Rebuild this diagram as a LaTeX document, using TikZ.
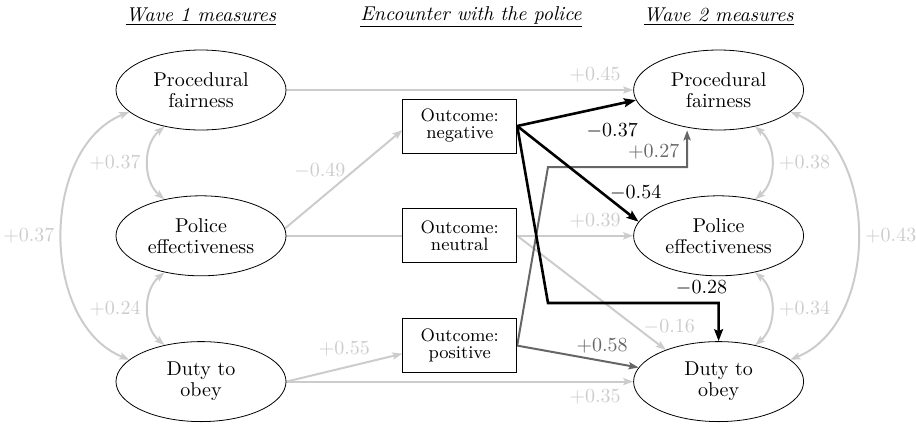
\documentclass[tikz,border=0pt]{standalone}
\usepackage{amsmath}
\usetikzlibrary{arrows.meta,calc,positioning,backgrounds,shapes.geometric}

\begin{document}
\begin{tikzpicture}[x=0.5pt,y=-0.5pt,>={Stealth[length=5pt,width=3.6pt,inset=1pt]},
		latent/.style={ellipse,draw,fill=white,minimum width=85pt,minimum height=40pt,inner sep=0pt,align=center,font={\fontsize{10}{10.5}\selectfont}},
		outcome/.style={rectangle,draw,fill=white,minimum width=57pt,minimum height=27pt,inner sep=0pt,align=center,font={\fontsize{9}{8.5}\selectfont}},
		lightpath/.style={->,color=black!20,line width=1pt},
		greypath/.style={->,color=black!60,line width=1pt},
		blackpath/.style={-{Stealth[length=6pt,width=4.4pt,inset=1pt]},color=black,line width=1.3pt},
		heading/.style={font=\itshape}]
		\useasboundingbox (0,0) rectangle (916,424);
		\node[latent] (pf1) at (201,90) {Procedural\\fairness};
		\node[latent] [below=32.5pt of pf1] (pe1) {Police\\effectiveness};
		\node[latent] [below=32.5pt of pe1] (do1) {Duty to\\obey};
		\node[outcome] [right=58pt of pe1] (neu) {Outcome:\\neutral};
		\node[outcome] [above=27.5pt of neu] (neg) {Outcome:\\negative};
		\node[outcome] [below=27.5pt of neu] (pos) {Outcome:\\positive};
		\node[latent] [right=58pt of neu] (pe2) {Police\\effectiveness};
		\node[latent] [above=32.5pt of pe2] (pf2) {Procedural\\fairness};
		\node[latent] [below=32.5pt of pe2] (do2) {Duty to\\obey};
		\node[heading] (t1) at (201,17) {\underline{Wave 1 measures}};
		\node[heading] (t2) at (471,17) {\underline{Encounter with the police}};
		\node[heading] (t3) at (pf2 |- t1) {\underline{Wave 2 measures}};
		\coordinate (kneg) at (548,303);
		\coordinate (kpos) at (548,167);
		\begin{scope}[on background layer]
			\draw[lightpath] (pf1.east) -- node[pos=0.89,above] {$+0.45$} (pf2.west);
			\draw[lightpath] (pe1.east) -- node[pos=0.89,above] {$+0.39$} (pe2.west);
			\draw[lightpath] (do1.east) -- node[pos=0.89,below] {$+0.35$} (do2.west);
			\draw[lightpath] (pe1.5) -- node[pos=0.58,left] {$-0.49$} (neg.184);
			\draw[lightpath] (do1.east) -- node[pos=0.5,above=2pt] {$+0.55$} (pos.188);
			\draw[lightpath] (neu.east) -- node[pos=0.8,right] {$-0.16$} (do2.149);
			\draw[lightpath,<->] (pf1.225) to[bend right=50] node[left] {$+0.37$} (pe1.135);
			\draw[lightpath,<->] (pe1.225) to[bend right=50] node[left] {$+0.24$} (do1.135);
			\draw[lightpath,<->] (pf1.197) to[bend right=68] node[left] {$+0.37$} (do1.163);
			\draw[lightpath,<->] (pf2.315) to[bend left=50] node[right] {$+0.38$} (pe2.45);
			\draw[lightpath,<->] (pe2.315) to[bend left=50] node[right] {$+0.34$} (do2.45);
			\draw[lightpath,<->] (pf2.343) to[bend left=68] node[right] {$+0.43$} (do2.17);
			\draw[greypath] (pos.east) -- (kpos) -| node[pos=0.38,above] {$+0.27$} ([xshift=-15.75pt]pf2.south);
			\draw[greypath] (pos.east) -- node[pos=0.7,above] {$+0.58$} (do2.170);
			\draw[blackpath] (neg.east) -- node[pos=0.8,below=5pt] {$-0.37$} (pf2.187);
			\draw[blackpath] (neg.east) -- node[pos=0.7,right] {$-0.54$} (pe2.170);
			\draw[blackpath] (neg.east) -- (kneg) -| node[pos=0.45,above] {$-0.28$} (do2.north);
		\end{scope}
	\end{tikzpicture}
\end{document}
